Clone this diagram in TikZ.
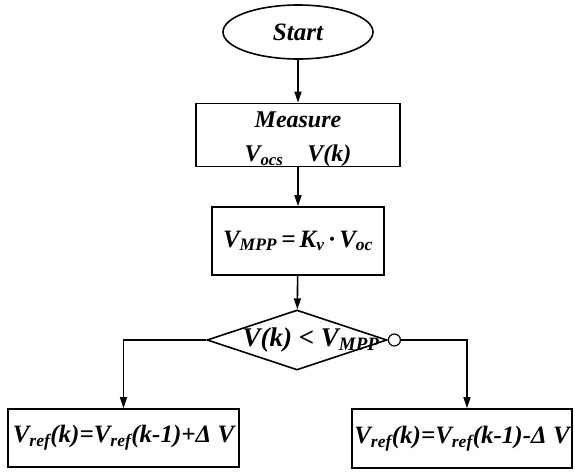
\documentclass[tikz,border=0pt]{standalone}
\usepackage{fontspec}
\setmainfont{Liberation Serif}
\usetikzlibrary{shapes.geometric,arrows.meta}
\newcommand{\fsz}[1]{\fontsize{#1}{#1}\selectfont}
\begin{document}
\begin{tikzpicture}[x=1pt, y=-1pt, line width=1.6pt,
    box/.style={draw, rectangle, inner sep=0pt, align=center, font=\bfseries\itshape},
    arr/.style={-{Triangle[length=11pt,width=7pt]}}]
    \useasboundingbox (0,0) rectangle (575,471);
    \node[draw, ellipse, minimum width=150pt, minimum height=54pt, inner sep=0pt, font=\bfseries\itshape\fsz{25}] (start) at (298,32) {Start};
    \node[box, minimum width=204pt, minimum height=63pt, font=\bfseries\itshape\fsz{24}] (meas) at (298,135) {\rule{0pt}{24pt}Measure\\[10pt] V\textsubscript{ocs}\quad V(k)};
    \node[box, minimum width=172pt, minimum height=68pt, font=\bfseries\itshape\fsz{25}] (vmpp) at (298,241) {V\textsubscript{MPP}\,=\,K\textsubscript{v}\,·\,V\textsubscript{oc}};
    \node[draw, diamond, aspect=3, minimum width=180pt, minimum height=60pt, inner sep=0pt] (cmp) at (297,340) {};
    \node[font=\bfseries\itshape\fsz{27}] (cmptxt) at ([xshift=14pt]cmp.center) {V(k) < V\textsubscript{MPP}};
    \node[draw, circle, minimum size=12pt, inner sep=0pt, anchor=west, line width=1.2pt] (neg) at (cmp.east) {};
    \node[box, minimum width=231pt, minimum height=58pt, font=\bfseries\itshape\fsz{25}] (inc) at (123.5,438) {V\textsubscript{ref}(k)=V\textsubscript{ref}(k-1)+Δ V};
    \node[box, minimum width=220pt, minimum height=59pt, font=\bfseries\itshape\fsz{25}] (dec) at (462,438.5) {V\textsubscript{ref}(k)=V\textsubscript{ref}(k-1)-Δ V};
    \draw[arr] (start) -- (meas);
    \draw[arr] (meas) -- (vmpp);
    \draw[arr] (vmpp) -- (cmp);
    \draw[arr] (cmp.west) -| (inc.north);
    \draw[arr] (neg.east) -| ([xshift=5pt]dec.north);
\end{tikzpicture}
\end{document}
